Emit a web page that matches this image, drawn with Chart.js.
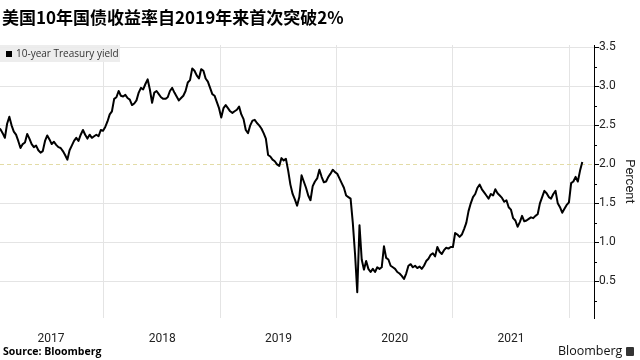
<!DOCTYPE html>
<html>
<head>
<meta charset="utf-8">
<script src="https://cdn.jsdelivr.net/npm/chart.js@4.4.1/dist/chart.umd.min.js"></script>
<style>
  html, body { margin: 0; padding: 0; background: #fff; }
  #wrap { position: relative; width: 640px; height: 360px; overflow: hidden; background: #fff; }
  #c { position: absolute; left: 0; top: 0; }
  #title { position: absolute; left: 2px; top: 5px; font: bold 17px/24px "Noto Sans CJK SC", "Noto Sans", sans-serif; color: #000; white-space: nowrap; }
  #legend { position: absolute; left: 0; top: 45px; width: 120px; height: 17px; background: rgba(236,236,236,0.92); font: 10px/17px "Open Sans", "Noto Sans", sans-serif; color: #333; white-space: nowrap; }
  #legend .sq { display: inline-block; width: 6px; height: 6px; background: #000; margin: 0 4px 0 6px; vertical-align: 0px; }
  #source { position: absolute; left: 3px; top: 344px; font: bold 10.5px/14px "Open Sans", "Noto Sans", sans-serif; color: #000; white-space: nowrap; }
  #logo { position: absolute; left: 558px; top: 343px; font: 500 12.5px/16px "Open Sans", "Noto Sans", sans-serif; color: #111; white-space: nowrap; }
  #logo .ic { display: inline-block; width: 8px; height: 9px; background: #333; border-radius: 1px; margin-left: 4px; vertical-align: -1px; }
</style>
</head>
<body>
<div id="wrap">
  <canvas id="c" width="640" height="360"></canvas>
  <div id="title">美国10年国债收益率自2019年来首次突破2%</div>
  <div id="legend"><span class="sq"></span>10-year Treasury yield</div>
  <div id="source">Source: Bloomberg</div>
  <div id="logo">Bloomberg<span class="ic"></span></div>
</div>
<script>
// ---- data (weekly closes), first week ending 2017-02-03 ----
const firstWeek = '2017-02-03';
const seriesName = '10-year Treasury yield';
const yields2017 = [2.47,2.45,2.40,2.34,2.52,2.61,2.50,2.42,2.38,2.30,2.21,2.26,2.28,2.39,2.33,2.26,2.22,2.24,2.18,2.15,2.17,2.30,2.37,2.32,2.26,2.29,2.25,2.22,2.21,2.17,2.12,2.06,2.18,2.24,2.30,2.34,2.30,2.38,2.44,2.38,2.33,2.38,2.34,2.36,2.38,2.36,2.44,2.43];
const yields2018 = [2.48,2.55,2.64,2.68,2.84,2.86,2.94,2.88,2.87,2.89,2.85,2.83,2.76,2.78,2.82,2.92,2.98,2.96,3.03,3.09,2.96,2.79,2.92,2.94,2.90,2.86,2.84,2.84,2.86,2.94,2.98,2.92,2.87,2.82,2.85,2.88,2.94,3.05,3.08,3.23,3.20,3.14,3.10,3.22,3.20,3.10,3.06,2.98,2.90,2.88,2.80,2.72];
const yields2019 = [2.60,2.72,2.76,2.72,2.68,2.66,2.68,2.70,2.74,2.64,2.58,2.44,2.40,2.50,2.56,2.57,2.53,2.50,2.46,2.40,2.33,2.12,2.10,2.06,2.04,2.00,1.98,2.08,2.05,2.07,1.92,1.74,1.62,1.55,1.47,1.58,1.86,1.78,1.70,1.60,1.54,1.72,1.78,1.82,1.93,1.84,1.77,1.78,1.84,1.88,1.93,1.90];
const yields2020 = [1.88,1.82,1.76,1.70,1.60,1.58,1.56,1.25,0.85,0.36,1.22,0.78,0.65,0.76,0.66,0.62,0.66,0.62,0.68,0.66,0.68,0.95,0.80,0.78,0.70,0.68,0.66,0.62,0.60,0.57,0.53,0.60,0.70,0.72,0.68,0.70,0.67,0.69,0.66,0.70,0.76,0.79,0.84,0.86,0.82,0.94,0.88,0.85,0.90,0.93,0.92,0.94];
const yields2021 = [0.94,1.12,1.10,1.07,1.10,1.17,1.25,1.40,1.50,1.58,1.62,1.70,1.74,1.68,1.64,1.60,1.56,1.62,1.60,1.68,1.63,1.60,1.57,1.52,1.54,1.45,1.42,1.31,1.28,1.20,1.26,1.34,1.27,1.28,1.30,1.32,1.31,1.34,1.36,1.50,1.58,1.66,1.63,1.58,1.56,1.62,1.66,1.50,1.45,1.38,1.43,1.48,1.51];
const yields2022 = [1.76,1.78,1.84,1.78,1.92,2.03];

// axis labels / ticks
const yearBoundaries = [2018, 2019, 2020, 2021, 2022];
const yearLabels = ['2017', '2018', '2019', '2020', '2021'];
const yearLabelPos = [2017.545, 2018.5, 2019.5, 2020.5, 2021.5];
const yMajorTicks = [0.5, 1.0, 1.5, 2.0, 2.5, 3.0, 3.5];
const yMinorTicks = [0.25, 0.75, 1.25, 1.75, 2.25, 2.75, 3.25];
const thresholdValue = 2.0;
const yAxisTitle = 'Percent';

// ---- build points ----
const allYields = [].concat(yields2017, yields2018, yields2019, yields2020, yields2021, yields2022);
function fracYear(ms) {
  const d = new Date(ms);
  const y = d.getUTCFullYear();
  const s = Date.UTC(y, 0, 1), e = Date.UTC(y + 1, 0, 1);
  return y + (ms - s) / (e - s);
}
const p = firstWeek.split('-').map(Number);
const t0 = Date.UTC(p[0], p[1] - 1, p[2]);
const points = allYields.map((v, i) => ({ x: fracYear(t0 + i * 7 * 86400000), y: v }));

const labelMap = {};
yearLabelPos.forEach((v, i) => { labelMap[v.toFixed(3)] = yearLabels[i]; });

const extras = {
  id: 'extras',
  beforeDatasetsDraw(chart) {
    const { ctx, chartArea, scales } = chart;
    const py = Math.round(scales.y.getPixelForValue(thresholdValue)) + 0.5;
    ctx.save();
    ctx.strokeStyle = '#e3dca6';
    ctx.lineWidth = 1;
    ctx.setLineDash([4, 3]);
    ctx.beginPath();
    ctx.moveTo(chartArea.left, py);
    ctx.lineTo(chartArea.right, py);
    ctx.stroke();
    ctx.restore();
  },
  afterDraw(chart) {
    const { ctx, chartArea, scales } = chart;
    const x0 = chartArea.right;
    ctx.save();
    ctx.strokeStyle = '#000';
    ctx.lineWidth = 1;
    ctx.beginPath();
    yMajorTicks.forEach(v => {
      const py = Math.round(scales.y.getPixelForValue(v)) + 0.5;
      ctx.moveTo(x0, py); ctx.lineTo(x0 + 5, py);
    });
    yMinorTicks.forEach(v => {
      const py = Math.round(scales.y.getPixelForValue(v)) + 0.5;
      ctx.moveTo(x0, py); ctx.lineTo(x0 + 3, py);
    });
    ctx.stroke();
    ctx.restore();
  }
};

new Chart(document.getElementById('c'), {
  type: 'line',
  data: {
    datasets: [{
      label: seriesName,
      data: points,
      borderColor: '#000',
      borderWidth: 2,
      borderJoinStyle: 'round',
      pointRadius: 0,
      tension: 0,
      fill: false
    }]
  },
  options: {
    responsive: false,
    animation: false,
    devicePixelRatio: 1,
    layout: { padding: { top: 45, left: 0, right: 0, bottom: 0 } },
    plugins: { legend: { display: false }, tooltip: { enabled: false }, title: { display: false } },
    scales: {
      x: {
        type: 'linear',
        min: 2017.106,
        max: 2022.213,
        afterFit: s => { s.height = 42; },
        afterBuildTicks: s => {
          s.ticks = yearBoundaries.map(v => ({ value: v })).concat(yearLabelPos.map(v => ({ value: v })));
        },
        grid: {
          drawTicks: false,
          color: c => (c.tick && Number.isInteger(c.tick.value)) ? '#e4e4e4' : 'rgba(0,0,0,0)',
          lineWidth: 1
        },
        border: { display: false },
        ticks: {
          autoSkip: false,
          maxRotation: 0,
          padding: 14,
          color: '#222',
          font: { family: 'Roboto, "Open Sans", sans-serif', size: 12 },
          callback: v => labelMap[Number(v).toFixed(3)] || ''
        }
      },
      y: {
        type: 'linear',
        position: 'right',
        min: 0.03,
        max: 3.53,
        afterFit: s => { s.width = 46; },
        afterBuildTicks: s => {
          s.ticks = yMajorTicks.map(v => ({ value: v }));
        },
        grid: {
          drawTicks: false,
          color: c => (c.tick && c.tick.value !== thresholdValue) ? '#e4e4e4' : 'rgba(0,0,0,0)',
          lineWidth: 1
        },
        border: { display: true, color: '#000', width: 1 },
        ticks: {
          padding: 5,
          color: '#222',
          font: { family: 'Roboto, "Open Sans", sans-serif', size: 12 },
          callback: v => Number(v).toFixed(1)
        },
        title: {
          display: true,
          text: yAxisTitle,
          color: '#222',
          padding: { top: 3, bottom: 0 },
          font: { family: 'Roboto, "Open Sans", sans-serif', size: 13 }
        }
      }
    }
  },
  plugins: [extras]
});
</script>
</body>
</html>
